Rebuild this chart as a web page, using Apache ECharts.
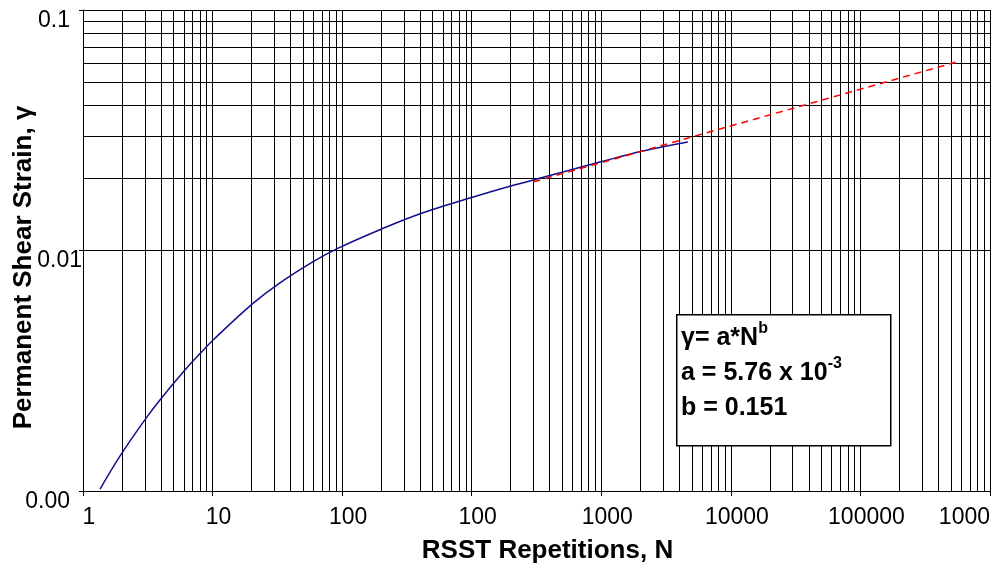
<!DOCTYPE html>
<html>
<head>
<meta charset="utf-8">
<script src="https://cdn.jsdelivr.net/npm/echarts@6/dist/echarts.min.js"></script>
<style>
  html, body { margin: 0; padding: 0; background: #fff; }
  #strainChart { width: 999px; height: 567px; }
</style>
</head>
<body>
<div id="strainChart"></div>
<script>
// measured curve: [N, permanent shear strain]
var measured = [
  [1.353, 0.001019], [1.99, 0.001433], [3.05, 0.00200], [4.05, 0.002441],
  [6.05, 0.003161], [8.0, 0.003727], [10.1, 0.004245], [20.5, 0.006026],
  [32.7, 0.007305], [59.8, 0.008991], [93.3, 0.01023], [202, 0.01229],
  [411, 0.01428], [998, 0.0166], [1971, 0.01849], [4013, 0.0205],
  [9750, 0.02332], [20940, 0.02591], [46560, 0.02826]
];
// power-law fit line (dashed), end points
var fitLine = [[3000, 0.0193], [5.4e6, 0.0606]];

// tick labels as printed on the original (decade 0..7)
var xTickLabels = ['1', '10', '100', '100', '1000', '10000', '100000', '1000'];
var yTickLabels = { '-3': '0.00', '-2': '0.01', '-1': '0.1' };

var xDecades = [0, 1, 2, 3, 4, 5, 6];
var yDecades = [-3, -2];
var minorSteps = [2, 3, 4, 5, 6, 7, 8, 9];

var fontName = '"Liberation Sans", Arial, sans-serif';

// minor grid (log spaced) built as markLines
var gridLines = [];
xDecades.forEach(function (d) {
  minorSteps.forEach(function (m) { gridLines.push({ xAxis: m * Math.pow(10, d) }); });
});
yDecades.forEach(function (d) {
  minorSteps.forEach(function (m) { gridLines.push({ yAxis: m * Math.pow(10, d) }); });
});

var myChart = echarts.init(document.getElementById('strainChart'));

var option = {
  animation: false,
  backgroundColor: '#fff',
  grid: { left: 83, top: 10, right: 9, bottom: 76, containLabel: false, outerBoundsMode: 'none' },
  xAxis: {
    type: 'log',
    logBase: 10,
    min: 1,
    max: 1e7,
    name: 'RSST Repetitions, N',
    nameLocation: 'middle',
    nameGap: 47,
    nameMoveOverlap: false,
    nameTextStyle: { fontFamily: fontName, fontSize: 26, fontWeight: 'bold', color: '#000', padding: [0, 0, 0, 22] },
    axisLine: { lineStyle: { color: '#000', width: 1 } },
    axisTick: { show: true, length: 5, lineStyle: { color: '#000' } },
    axisLabel: {
      fontFamily: fontName, fontSize: 23, color: '#000', margin: 15,
      padding: [0, 0, 0, 12],
      alignMaxLabel: 'right',
      formatter: function (v) {
        var k = Math.round(Math.log10(v));
        return xTickLabels[k] !== undefined ? xTickLabels[k] : '';
      }
    },
    splitLine: { show: true, lineStyle: { color: '#000', width: 1 } }
  },
  yAxis: {
    type: 'log',
    logBase: 10,
    min: 0.001,
    max: 0.1,
    name: 'Permanent Shear Strain, \u03b3',
    nameLocation: 'middle',
    nameGap: 46,
    nameMoveOverlap: false,
    nameTextStyle: { fontFamily: fontName, fontSize: 26, fontWeight: 'bold', color: '#000', padding: [0, 34, 0, 0] },
    axisLine: { show: true, lineStyle: { color: '#000', width: 1 } },
    axisTick: { show: true, length: 4, lineStyle: { color: '#000' } },
    axisLabel: {
      fontFamily: fontName, fontSize: 23, color: '#000', margin: 1,
      verticalAlign: 'top',
      lineHeight: 21,
      formatter: function (v) {
        var k = Math.round(Math.log10(v));
        var t = yTickLabels[k] || '';
        return k === -2 ? '{n|' + t + '}' : '{p|' + t + '}';
      },
      rich: {
        n: { fontFamily: fontName, fontSize: 23, color: '#000', lineHeight: 21 },
        p: { fontFamily: fontName, fontSize: 23, color: '#000', lineHeight: 21, padding: [0, 12, 0, 0] }
      }
    },
    splitLine: { show: true, lineStyle: { color: '#000', width: 1 } }
  },
  series: [
    {
      name: 'grid',
      type: 'line',
      data: [],
      z: 1,
      silent: true,
      markLine: {
        silent: true,
        symbol: ['none', 'none'],
        label: { show: false },
        animation: false,
        lineStyle: { color: '#000', width: 1, type: 'solid' },
        emphasis: { disabled: true },
        data: gridLines
      }
    },
    {
      name: 'measured',
      type: 'line',
      data: measured,
      smooth: 0.4,
      showSymbol: false,
      z: 5,
      lineStyle: { color: '#10108c', width: 1.5 }
    },
    {
      name: 'fit',
      type: 'line',
      data: fitLine,
      showSymbol: false,
      z: 6,
      lineStyle: { color: '#ff0000', width: 1.5, type: [7, 5] }
    }
  ],
  graphic: [
    {
      type: 'rect',
      left: 676,
      top: 314,
      z: 10,
      shape: { width: 214, height: 131 },
      style: { fill: '#fff', stroke: '#000', lineWidth: 1.5 }
    },
    {
      type: 'text',
      left: 681,
      top: 321,
      z: 11,
      style: {
        text: '{m|\u03b3= a*N}{s|b}\n{m|a = 5.76 x 10}{t|-3}\n{m|b = 0.151}',
        rich: {
          m: { fontFamily: fontName, fontSize: 25, fontWeight: 'bold', fill: '#000', lineHeight: 35 },
          s: { fontFamily: fontName, fontSize: 16, fontWeight: 'bold', fill: '#000', verticalAlign: 'top', lineHeight: 16 },
          t: { fontFamily: fontName, fontSize: 16, fontWeight: 'bold', fill: '#000', verticalAlign: 'top', lineHeight: 20 }
        }
      }
    }
  ]
};

myChart.setOption(option);
window.addEventListener('resize', function () {
  myChart.resize();
});
</script>
</body>
</html>
